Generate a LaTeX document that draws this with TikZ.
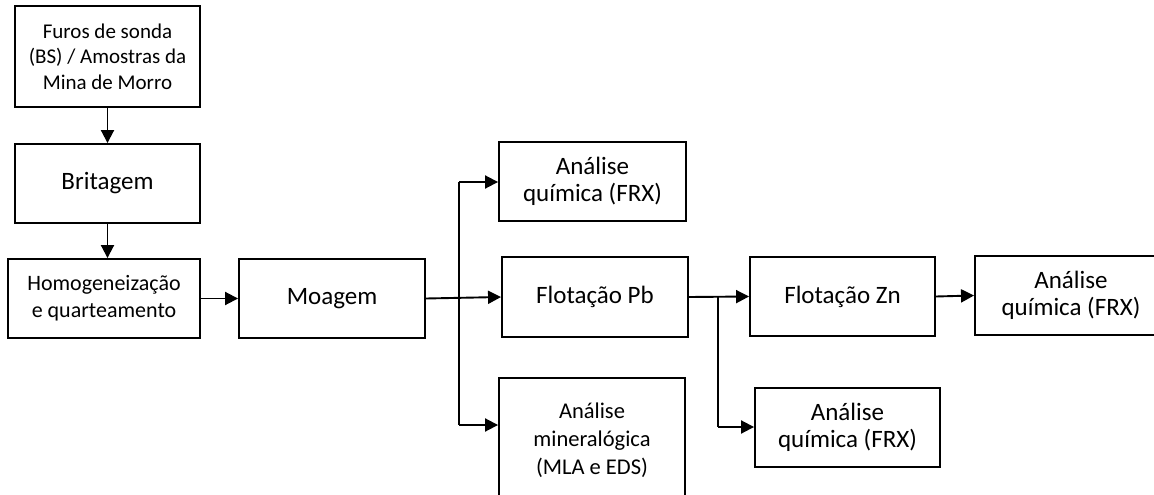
\documentclass[tikz,border=0pt]{standalone}
\usepackage{fontspec}
\setmainfont{Carlito}
\usetikzlibrary{arrows.meta}
\begin{document}
\begin{tikzpicture}[x=1pt,y=-1pt,
  box/.style={draw, line width=1.9pt, rectangle, align=center, inner sep=0pt,
    font=\fontsize{25}{27.5}\selectfont},
  smallbox/.style={box, font=\fontsize{21}{25.5}\selectfont},
  link/.style={line width=1.9pt, -{Triangle[length=13pt,width=13pt]}},
  wire/.style={line width=1.9pt}]
\useasboundingbox (0,0) rectangle (1154,495);
\clip (0,0) rectangle (1154,495);

% left column: sample preparation
\node[smallbox, minimum width=185pt, minimum height=101pt] (furos) at (107.5,56.5)
  {Furos de sonda\\(BS) / Amostras da\\Mina de Morro};
\node[box, minimum width=185pt, minimum height=79pt] (brit) at (107.5,183.5) {Britagem};
\node[box, font=\fontsize{22}{27}\selectfont, minimum width=192pt, minimum height=79pt] (homog) at (104,298.5)
  {Homogeneização\\e quarteamento};

% grinding and flotation line
\node[box, minimum width=186pt, minimum height=79pt] (moag) at (332,298.5) {Moagem};
\node[box, minimum width=187pt, minimum height=79pt] (anaA) at (592.5,181.5) {Análise\\química (FRX)};
\node[box, minimum width=186pt, minimum height=80pt] (fpb) at (595,297) {Flotação Pb};
\node[box, font=\fontsize{22.5}{28}\selectfont, minimum width=186pt, minimum height=124pt] (mla) at (592,440)
  {Análise\\mineralógica\\(MLA e EDS)};
\node[box, minimum width=185pt, minimum height=79pt] (fzn) at (842.5,296.5) {Flotação Zn};
\node[box, minimum width=200pt, minimum height=79pt] (anaC) at (1075,295.5) {\hspace*{-8pt}Análise\\\hspace*{-8pt}química (FRX)};
\node[box, minimum width=185pt, minimum height=79pt] (anaB) at (847.5,427.5) {Análise\\química (FRX)};

% branch points
\coordinate (j1top) at (459,182);
\coordinate (j1bot) at (459,425);
\coordinate (j2) at (718,297);
\coordinate (j2bot) at (718,427);

% connectors
\draw[link] (furos.south) -- (brit.north);
\draw[link] (brit.south) -- (brit.south |- homog.north);
\draw[link] (homog.east) -- (moag.west);
\draw[link] (moag.east) -- (fpb.west);
\draw[wire] (j1top) -- (j1bot);
\draw[link] (j1top) -- (j1top -| anaA.west);
\draw[link] (j1bot) -- (j1bot -| mla.west);
\draw[link] (fpb.east) -- (fzn.west);
\draw[wire] (j2) -- (j2bot);
\draw[link] (j2bot) -- (j2bot -| anaB.west);
\draw[link] (fzn.east) -- (anaC.west);
\end{tikzpicture}
\end{document}
